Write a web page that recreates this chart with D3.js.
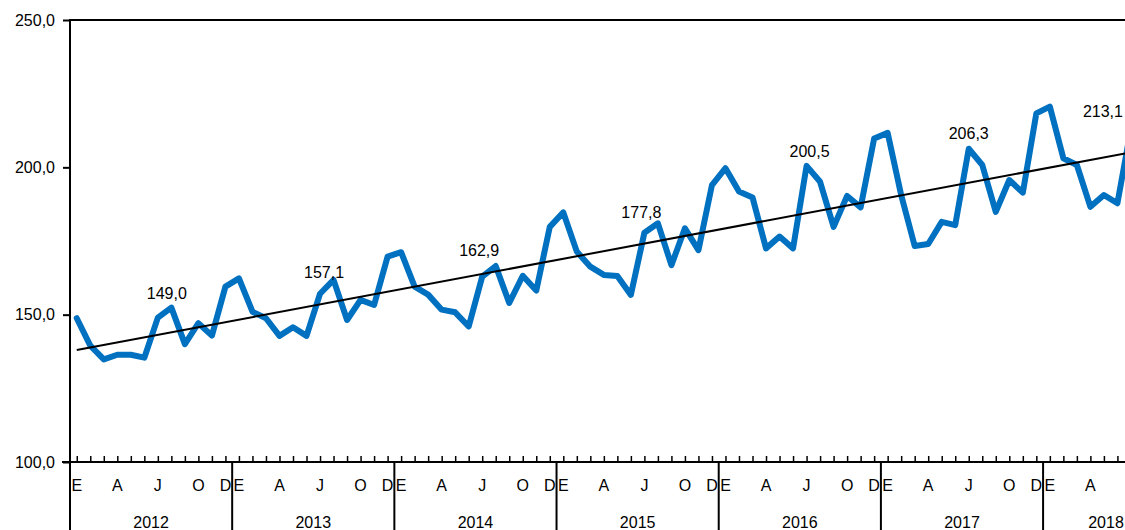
<!DOCTYPE html>
<html>
<head>
<meta charset="utf-8">
<script src="https://cdn.jsdelivr.net/npm/d3@7"></script>
<style>
  html, body { margin: 0; padding: 0; background: #fff; overflow: hidden; }
  svg { display: block; }
  text { font-family: "Liberation Sans", Arial, sans-serif; fill: #000; }
</style>
</head>
<body>
<svg id="chart" width="1125" height="530"></svg>
<script>
// ---- data ----
const years = [2012, 2013, 2014, 2015, 2016, 2017, 2018];
const monthLetters = ["E", "F", "M", "A", "M", "J", "J", "A", "S", "O", "N", "D"];
const shownMonthIdx = [0, 3, 6, 9, 11];
const values = [
  148.8, 139.5, 134.8, 136.4, 136.4, 135.4, 149.0, 152.4, 140.0, 147.1, 142.9, 159.5,
  162.3, 151.0, 148.8, 142.8, 145.7, 142.8, 157.1, 161.8, 148.2, 155.0, 153.3, 169.7,
  171.2, 159.5, 156.8, 151.7, 150.8, 146.0, 162.9, 166.5, 154.0, 163.2, 158.2, 179.8,
  184.7, 171.4, 166.3, 163.5, 163.1, 156.7, 177.8, 181.0, 166.8, 179.3, 171.9, 194.0,
  199.7, 191.8, 189.8, 172.5, 176.5, 172.5, 200.5, 195.1, 179.8, 190.3, 186.4, 209.8,
  211.7, 190.6, 173.3, 174.0, 181.5, 180.4, 206.3, 200.8, 184.9, 195.7, 191.4, 218.3,
  220.6, 203.1, 200.8, 186.6, 190.6, 187.8, 213.1
];
const trendValues = [138.0, 205.1];           // trend line at first and last month
const labelledIdx = [6, 18, 30, 42, 54, 66, 78]; // July of each year
const yTicks = [100, 150, 200, 250];

// ---- layout ----
const W = 1125, H = 530;
const mLeft = 70, mTop = 20, mBottom = 462;
const monthW = 13.515;
const nMonths = years.length * 12;
const labelOffsets = [[9, -19], [4, -16], [-3, -21], [-3, -15], [3, -9], [0, -10], [-28, -12]];

const svg = d3.select("#chart");
const x = d3.scaleLinear().domain([0, nMonths]).range([mLeft, mLeft + nMonths * monthW]);
const y = d3.scaleLinear().domain([100, 250]).range([mBottom, mTop]);
const xc = i => x(i + 0.5);
const fmt = v => d3.format(".1f")(v).replace(".", ",");

// top border line
svg.append("line").attr("x1", mLeft).attr("x2", W).attr("y1", y(250)).attr("y2", y(250))
  .attr("stroke", "#000").attr("stroke-width", 2);

// y axis
const yAxis = d3.axisLeft(y).tickValues(yTicks).tickSize(7).tickPadding(8).tickFormat(fmt);
const gy = svg.append("g").attr("transform", `translate(${mLeft},0)`).call(yAxis);
gy.select(".domain").remove();
gy.selectAll(".tick line").attr("stroke", "#000").attr("stroke-width", 2);
gy.selectAll(".tick text").attr("font-size", 16).attr("font-family", "Liberation Sans, Arial, sans-serif").attr("fill", "#000");
svg.append("line").attr("x1", mLeft).attr("x2", mLeft).attr("y1", mTop - 1).attr("y2", H)
  .attr("stroke", "#000").attr("stroke-width", 2);

// x axis line + month ticks (upward)
const monthIdx = d3.range(nMonths);
const xAxis = d3.axisTop(x).tickValues(monthIdx.map(i => i + 0.5)).tickSize(6).tickFormat("");
const gx = svg.append("g").attr("transform", `translate(0,${mBottom})`).call(xAxis);
gx.select(".domain").remove();
gx.selectAll(".tick line").attr("stroke", "#000").attr("stroke-width", 1.5);
svg.append("line").attr("x1", mLeft - 8).attr("x2", W).attr("y1", mBottom).attr("y2", mBottom)
  .attr("stroke", "#000").attr("stroke-width", 2);

// year separators
svg.selectAll(".ysep").data(years.slice(1)).enter().append("line")
  .attr("x1", (d, k) => x((k + 1) * 12)).attr("x2", (d, k) => x((k + 1) * 12))
  .attr("y1", mBottom).attr("y2", H).attr("stroke", "#000").attr("stroke-width", 2);

// month letters (only those inside the visible frame)
const mLabels = [];
years.forEach((yr, k) => shownMonthIdx.forEach(m => mLabels.push({ i: k * 12 + m, t: monthLetters[m] })));
svg.selectAll(".mlab").data(mLabels.filter(d => xc(d.i) + 6 < W)).enter().append("text")
  .attr("x", d => xc(d.i)).attr("y", 491).attr("text-anchor", "middle")
  .attr("font-size", 16).text(d => d.t);

// year labels (kept inside the frame)
svg.selectAll(".ylab").data(years).enter().append("text")
  .attr("x", (d, k) => Math.min(x(k * 12 + 6), W - 19)).attr("y", 528).attr("text-anchor", "middle")
  .attr("font-size", 16).text(d => d);

// data line
const line = d3.line().x((d, i) => xc(i)).y(d => y(d)).curve(d3.curveLinear);
svg.append("path").datum(values).attr("d", line)
  .attr("fill", "none").attr("stroke", "#0070C0").attr("stroke-width", 6)
  .attr("stroke-linejoin", "round").attr("stroke-linecap", "round");

// trend line
svg.append("line")
  .attr("x1", xc(0)).attr("y1", y(trendValues[0]))
  .attr("x2", xc(values.length - 1)).attr("y2", y(trendValues[1]))
  .attr("stroke", "#000").attr("stroke-width", 2);

// data labels
svg.selectAll(".dlab").data(labelledIdx).enter().append("text")
  .attr("x", (d, k) => xc(d) + labelOffsets[k][0])
  .attr("y", (d, k) => y(values[d]) + labelOffsets[k][1])
  .attr("text-anchor", "middle").attr("font-size", 16)
  .text(d => fmt(values[d]));
</script>
</body>
</html>
